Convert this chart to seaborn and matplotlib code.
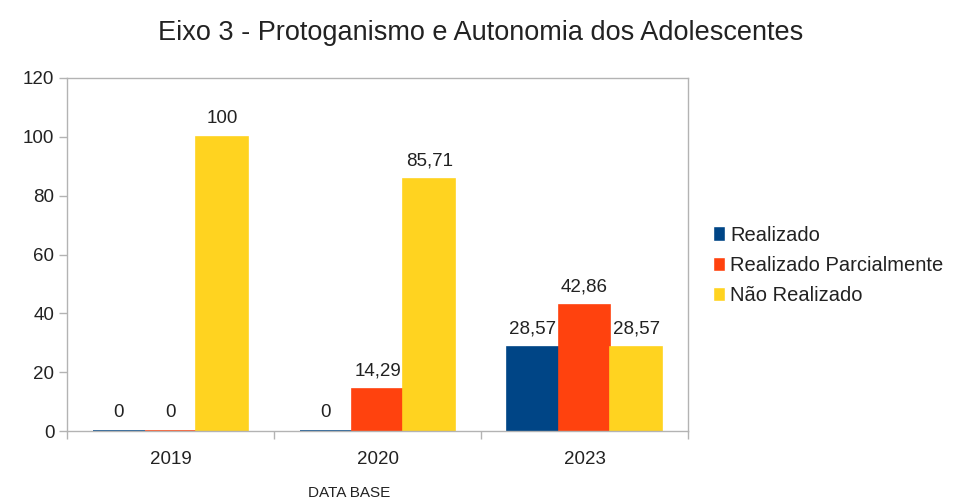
import matplotlib
matplotlib.use("Agg")
import matplotlib.pyplot as plt
import seaborn as sns
import pandas as pd
from matplotlib.ticker import FixedLocator

anos = ["2019", "2020", "2023"]
series = ["Realizado", "Realizado Parcialmente", "Não Realizado"]
realizado = [0, 0, 28.57]
parcial = [0, 14.29, 42.86]
nao_realizado = [100, 85.71, 28.57]
cores = ["#004586", "#ff420e", "#ffd320"]

rows = []
for s, vals in zip(series, [realizado, parcial, nao_realizado]):
    for a, v in zip(anos, vals):
        rows.append({"Ano": a, "Série": s, "Valor": v})
df = pd.DataFrame(rows)

sns.set_theme(style="white")
plt.rcParams['font.family'] = ['Liberation Sans', 'DejaVu Sans']

fig = plt.figure(figsize=(9.57, 5.03), dpi=100)
ax = fig.add_axes([0.070, 0.143, 0.649, 0.702])

sns.barplot(data=df, x="Ano", y="Valor", hue="Série", hue_order=series,
            palette=cores, width=0.75, ax=ax, saturation=1, legend=True)

for patch_container, col in zip(ax.containers, cores):
    for p in patch_container:
        p.set_edgecolor(col)
        p.set_linewidth(1.2)
    labels = [f"{v:g}".replace(".", ",") if v != int(v) else f"{int(v)}" for v in patch_container.datavalues]
    ax.bar_label(patch_container, labels=labels, padding=7, fontsize=13.5, color="#222222")

ax.set_ylim(0, 120)
ax.set_xlim(-0.5, 2.5)
ax.set_yticks([0, 20, 40, 60, 80, 100, 120])
ax.tick_params(axis="y", which="major", left=True, length=6, width=1, color="#b3b3b3",
               labelsize=13.5, labelcolor="#222222", pad=3)
ax.tick_params(axis="x", which="major", bottom=False, labelsize=13.5, labelcolor="#222222", pad=8)
ax.xaxis.set_minor_locator(FixedLocator([-0.5, 0.5, 1.5, 2.5]))
ax.tick_params(axis="x", which="minor", bottom=True, length=6, width=1, color="#b3b3b3")

for sp in ax.spines.values():
    sp.set_visible(True)
    sp.set_color("#b3b3b3")
    sp.set_linewidth(1)

ax.set_ylabel("")
ax.set_xlabel("DATA BASE", fontsize=11, color="#222222")
ax.xaxis.set_label_coords(0.455, -0.155)

fig.text(0.502, 0.935, "Eixo 3 - Protoganismo e Autonomia dos Adolescentes",
         ha="center", va="center", fontsize=19.5, color="#222222")

leg = ax.legend(loc="center left", bbox_to_anchor=(1.04, 0.47), frameon=False,
                fontsize=14.5, handlelength=0.6, handleheight=0.7, handletextpad=0.25,
                labelspacing=0.55, borderaxespad=0, borderpad=0)
for t in leg.get_texts():
    t.set_color("#222222")

fig.savefig("out.png", dpi=100)
